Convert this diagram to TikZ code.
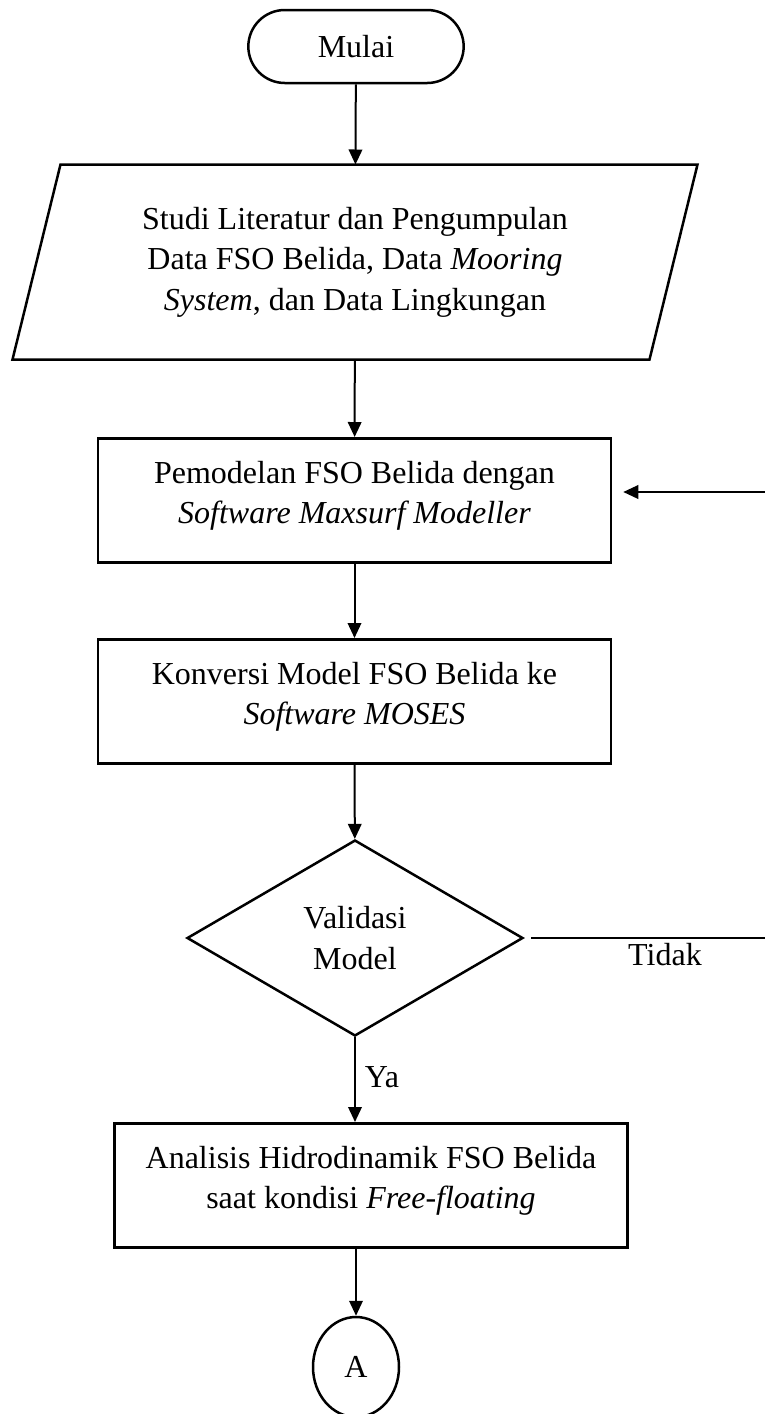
\documentclass[tikz,border=0pt]{standalone}
\usepackage{fontspec}
\setmainfont{Liberation Serif}
\usetikzlibrary{shapes.geometric,shapes.misc,arrows.meta}

\begin{document}
\begin{tikzpicture}
			[x=0.4pt, y=-0.4pt, font=\fontsize{12.8}{16.2}\selectfont,
			terminal/.style ={rounded rectangle, draw, line width=1pt, minimum width=92.8pt, minimum height=29.2pt},
			block/.style ={rectangle, draw, line width=1pt, inner sep=0pt, text width=205.2pt, align=flush center, text height=18pt, text depth=31.6pt},
			decision/.style ={diamond, draw, line width=1pt, inner sep=0pt, aspect=1.7, minimum width=134.4pt, minimum height=78.4pt, align=center},
			connector/.style ={ellipse, draw, line width=1pt, inner sep=0pt, minimum width=34.4pt, minimum height=40pt},
			arrow/.style ={-{Triangle[length=6pt,width=5.4pt]}, line width=0.8pt}];
			\useasboundingbox (0,0) rectangle (765,1414);
			\node [terminal] (mulai) at (356,46.5) {Mulai};
			\node [inner sep=0pt, minimum width=254.4pt, minimum height=77.6pt, align=center] (studi) at (355,262)
				{Studi Literatur dan Pengumpulan\\ Data FSO Belida, Data \textit{Mooring}\\ \textit{System}, dan Data Lingkungan};
			\draw [line width=1pt] ([xshift=9.6pt]studi.north west) -- ([xshift=9.6pt]studi.north east)
				-- ([xshift=-9.6pt]studi.south east) -- ([xshift=-9.6pt]studi.south west) -- cycle;
			\node [block, anchor=north] (pemodelan) at (354.5,437) {Pemodelan FSO Belida dengan\\ \textit{Software Maxsurf Modeller}};
			\node [block, anchor=north] (konversi) at (354.5,638) {Konversi Model FSO Belida ke\\ \textit{Software MOSES}};
			\node [decision] (validasi) at (355,938) {Validasi\\ Model};
			\node [block, anchor=north] (analisis) at (371,1122) {Analisis Hidrodinamik FSO Belida\\ saat kondisi \textit{Free-floating}};
			\node [connector] (A) at (356,1367) {A};
			\node (ya) at (382,1077) {Ya};
			\node (tidak) at (665,955) {Tidak};
			\coordinate (balik) at (765,492);
			\coordinate (keluar) at (765,938);
			\draw [arrow] (mulai) -- (studi);
			\draw [arrow] (studi) -- (pemodelan);
			\draw [arrow] (pemodelan) -- (konversi);
			\draw [arrow] (konversi) -- (validasi);
			\draw [arrow] (validasi.south) -- (validasi.south |- analisis.north);
			\draw [arrow] (analisis.south -| A.north) -- (A.north);
			\draw [arrow, shorten >=4.4pt] (balik) -- (balik -| pemodelan.east);
			\draw [line width=0.8pt] ([xshift=2.8pt]validasi.east) -- (keluar);
		\end{tikzpicture}
\end{document}
